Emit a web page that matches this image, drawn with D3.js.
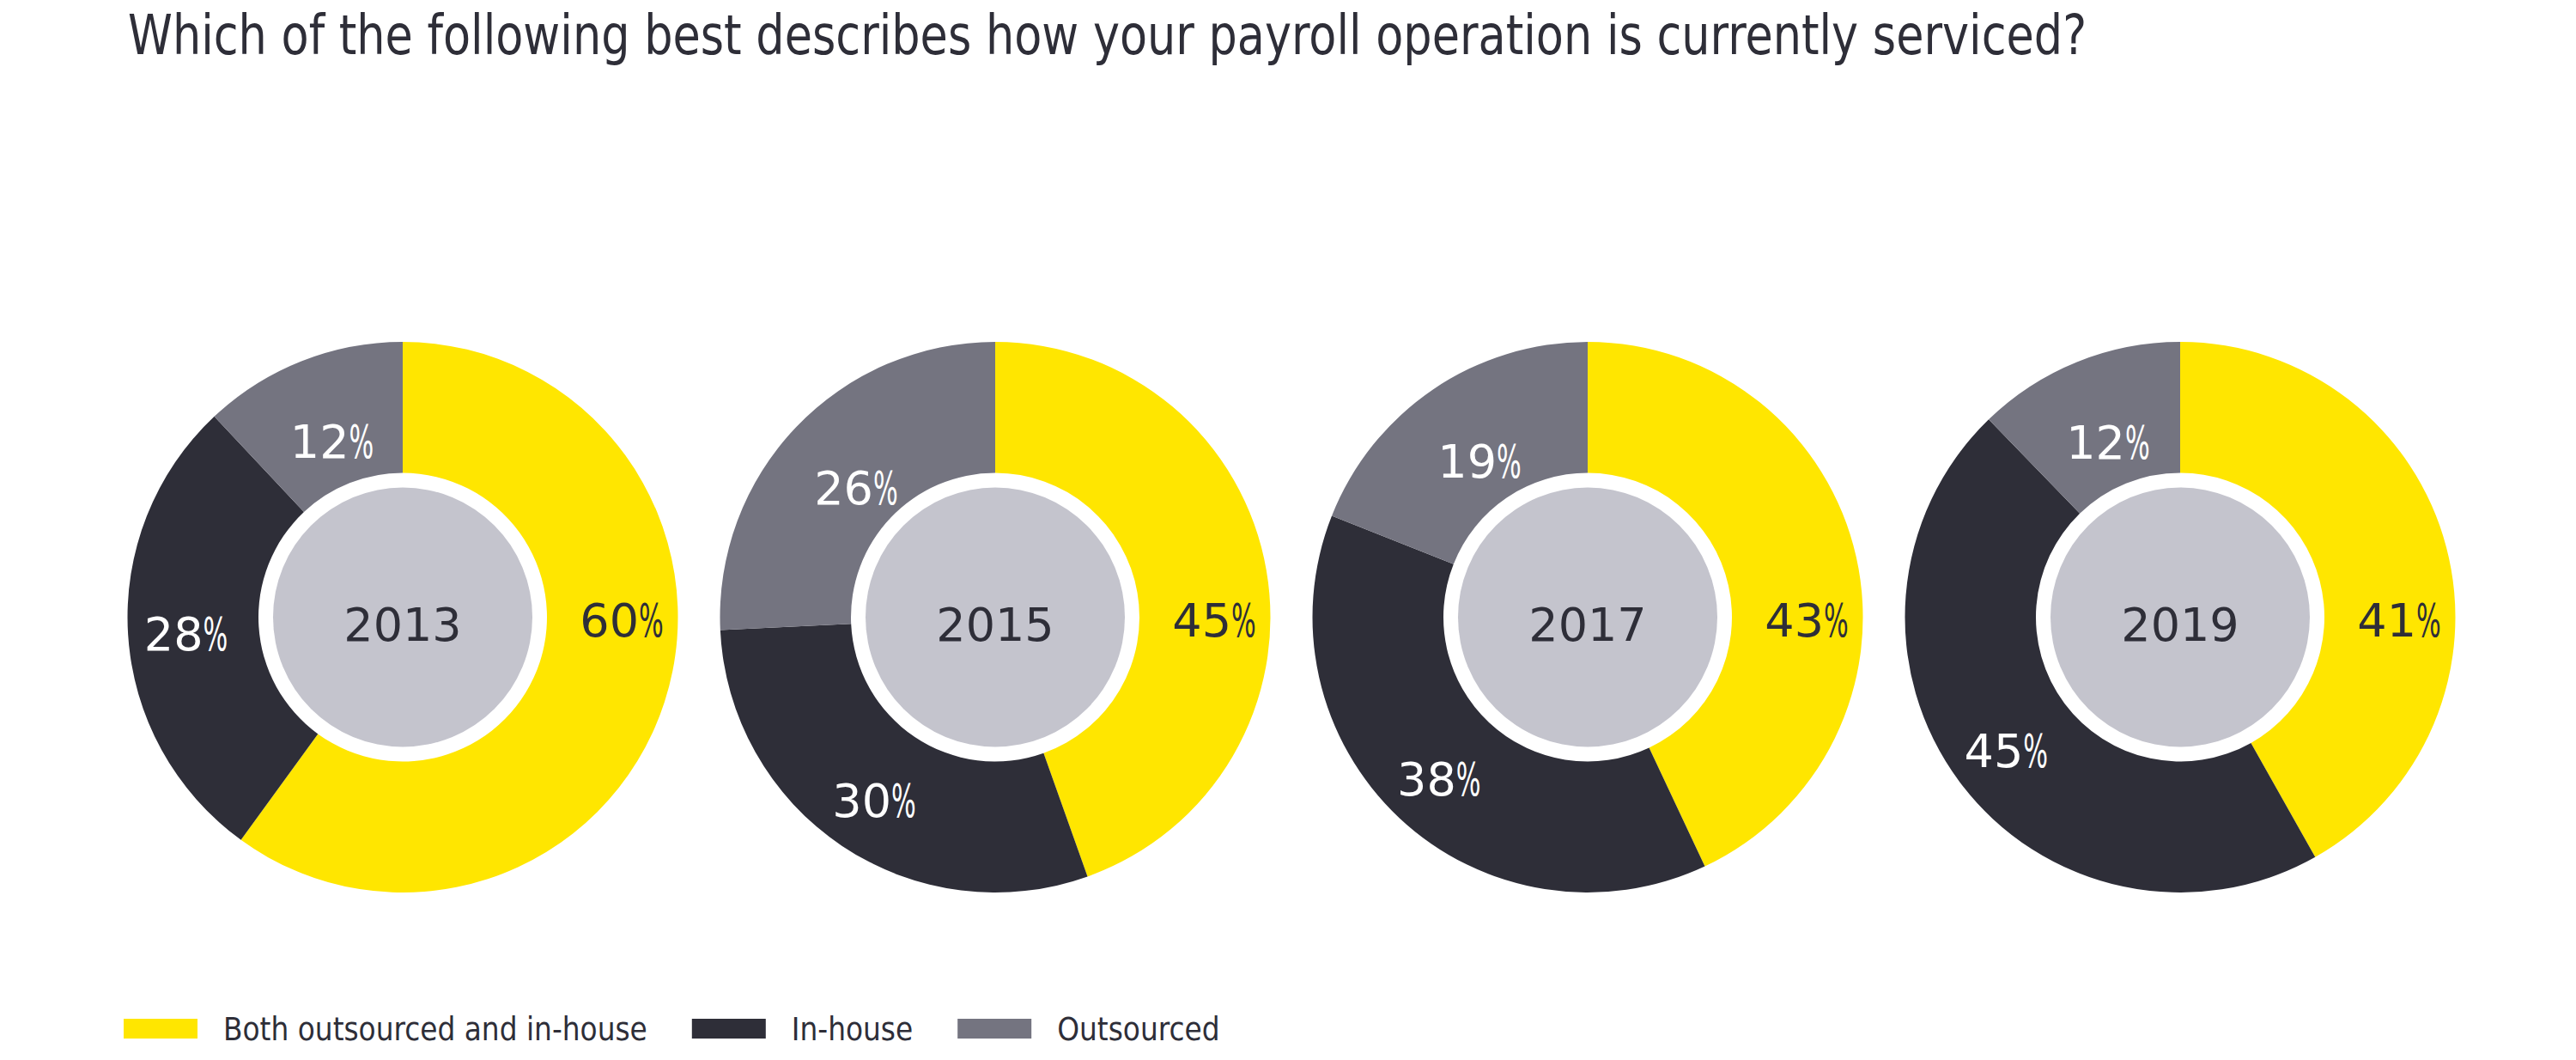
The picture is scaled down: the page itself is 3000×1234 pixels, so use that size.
<!DOCTYPE html>
<html>
<head>
<meta charset="utf-8">
<script src="https://cdn.jsdelivr.net/npm/d3@7"></script>
<style>
  html, body { margin: 0; padding: 0; background: #ffffff; }
  svg { display: block; }
</style>
</head>
<body>
<svg id="chart" width="3000" height="1234"></svg>
<script>
// ---- data ----
const title = "Which of the following best describes how your payroll operation is currently serviced?";
const years = ["2013", "2015", "2017", "2019"];
const seriesNames = ["Both outsourced and in-house", "In-house", "Outsourced"];
const bothValues = [60, 45, 43, 41];
const inHouseValues = [28, 30, 38, 45];
const outsourcedValues = [12, 26, 19, 12];
const seriesColors = ["#FFE600", "#2E2E38", "#747480"];
const labelColors = ["#2E2E38", "#FFFFFF", "#FFFFFF"];

// ---- layout ----
const cy = 718.5;
const outerR = 320.5, innerR = 168, coreR = 151;
const labelRadii = [255, 253, 224];
const dark = "#2E2E38";
const condensed = "'Liberation Sans Narrow', 'DejaVu Sans Condensed', 'Liberation Sans', sans-serif";
const labelFont = "'DejaVu Sans', Verdana, sans-serif";
const labelSize = 54;
const pctScaleX = 0.56;

const svg = d3.select("#chart");

svg.append("text")
  .attr("x", 149).attr("y", 63)
  .attr("font-family", condensed)
  .attr("font-size", 64)
  .attr("fill", dark)
  .attr("textLength", 2281)
  .attr("lengthAdjust", "spacingAndGlyphs")
  .text(title);

const x = d3.scalePoint().domain(years).range([469, 2539]);
const color = d3.scaleOrdinal().domain(seriesNames).range(seriesColors);
const textColor = d3.scaleOrdinal().domain(seriesNames).range(labelColors);
const labelRadius = d3.scaleOrdinal().domain(seriesNames).range(labelRadii);

const pie = d3.pie().sort(null).value(d => d.value);
const arc = d3.arc().innerRadius(innerR).outerRadius(outerR);

// measure glyph advances
const probe = svg.append("text").attr("font-family", labelFont).attr("font-size", labelSize).text("0000");
const digitW = probe.node().getComputedTextLength() / 4;
probe.text("%");
const pctW = probe.node().getComputedTextLength() * pctScaleX;
probe.remove();

years.forEach((yr, i) => {
  const data = [
    { name: seriesNames[0], value: bothValues[i] },
    { name: seriesNames[1], value: inHouseValues[i] },
    { name: seriesNames[2], value: outsourcedValues[i] }
  ];
  const g = svg.append("g").attr("transform", `translate(${x(yr)},${cy})`);
  const arcs = pie(data);

  g.selectAll("path.slice").data(arcs).enter().append("path")
    .attr("class", "slice")
    .attr("d", arc)
    .attr("fill", d => color(d.data.name));

  g.append("circle").attr("r", coreR).attr("fill", "#C4C4CD");

  g.append("text")
    .attr("x", 0).attr("y", 0)
    .attr("dy", "0.5em")
    .attr("text-anchor", "middle")
    .attr("font-family", labelFont)
    .attr("font-size", labelSize)
    .attr("fill", dark)
    .text(yr);

  const lab = g.selectAll("g.pct").data(arcs).enter().append("g")
    .attr("class", "pct")
    .attr("transform", (d, j) => {
      const r = labelRadius(d.data.name);
      // first series label sits at 3 o'clock, the rest at slice centroids
      const p = j === 0 ? [r, 0] : d3.arc().innerRadius(r).outerRadius(r).centroid(d);
      return `translate(${p[0]},${p[1]})`;
    });

  lab.each(function(d) {
    const s = String(d.data.value);
    const total = s.length * digitW + pctW;
    const left = -total / 2;
    const gg = d3.select(this);
    gg.append("text")
      .attr("x", left).attr("y", 0)
      .attr("dy", "0.42em")
      .attr("font-family", labelFont)
      .attr("font-size", labelSize)
      .attr("fill", textColor(d.data.name))
      .text(s);
    gg.append("text")
      .attr("transform", `translate(${left + s.length * digitW},0) scale(${pctScaleX},1)`)
      .attr("dy", "0.42em")
      .attr("font-family", labelFont)
      .attr("font-size", labelSize)
      .attr("fill", textColor(d.data.name))
      .text("%");
  });
});

// ---- legend ----
const legend = svg.append("g").attr("transform", "translate(144,1186)");
let lx = 0;
seriesNames.forEach((name, i) => {
  legend.append("rect")
    .attr("x", lx).attr("y", 0)
    .attr("width", 86).attr("height", 23)
    .attr("fill", color(name));
  const t = legend.append("text")
    .attr("x", lx + 116).attr("y", 25)
    .attr("font-family", condensed)
    .attr("font-size", 36.5)
    .attr("fill", dark)
    .text(name);
  lx += 116 + t.node().getComputedTextLength() + 52;
});
</script>
</body>
</html>
